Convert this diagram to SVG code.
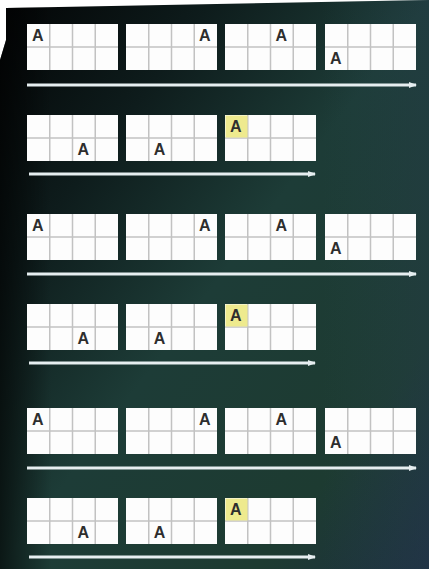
<svg xmlns="http://www.w3.org/2000/svg" width="429" height="569" viewBox="0 0 429 569">
<defs>
<linearGradient id="bg" x1="0" y1="0" x2="1" y2="1">
<stop offset="0" stop-color="#030405"/>
<stop offset="0.25" stop-color="#0e1c1c"/>
<stop offset="0.5" stop-color="#1d3c37"/>
<stop offset="0.8" stop-color="#1d3b31"/>
<stop offset="1" stop-color="#1e3040"/>
</linearGradient>
<linearGradient id="sheen" x1="0" y1="0" x2="1" y2="0">
<stop offset="0" stop-color="#000" stop-opacity="0.6"/>
<stop offset="0.12" stop-color="#000" stop-opacity="0"/>
<stop offset="0.75" stop-color="#2a4a5a" stop-opacity="0"/>
<stop offset="1" stop-color="#2a3e55" stop-opacity="0.3"/>
</linearGradient>
<g id="grid">
<rect x="0" y="0" width="91" height="46" fill="#fdfdfd"/>
<path d="M22.75 0V46M45.5 0V46M68.25 0V46M0 23H91" stroke="#c2c2c2" stroke-width="1.5" fill="none"/>
</g>
<marker id="ah" markerWidth="8" markerHeight="6" refX="7" refY="3" orient="auto" markerUnits="userSpaceOnUse">
<path d="M0 0L8 3L0 6Z" fill="#e6eef0"/>
</marker>
<style>
.a{font-family:"Liberation Sans",Arial,sans-serif;font-weight:bold;font-size:16px;fill:#2e2e2e}
.arr{stroke:#e6eef0;stroke-width:3;fill:none;marker-end:url(#ah)}
.hl{fill:#eeea8e}
</style>
</defs>
<rect width="429" height="569" fill="#fff"/>
<polygon points="6,8 429,0 429,569 0,569 0,60 6,40" fill="url(#bg)"/>
<polygon points="6,8 429,0 429,569 0,569 0,60 6,40" fill="url(#sheen)"/>

<g id="r1g1"><use href="#grid" x="27" y="24"/><text class="a" x="32" y="41">A</text></g>
<g id="r1g2"><use href="#grid" x="126" y="24"/><text class="a" x="199" y="41">A</text></g>
<g id="r1g3"><use href="#grid" x="225" y="24"/><text class="a" x="275.5" y="41">A</text></g>
<g id="r1g4"><use href="#grid" x="325" y="24"/><text class="a" x="330" y="64">A</text></g>

<g id="r2g1"><use href="#grid" x="27" y="115"/><text class="a" x="77.5" y="155">A</text></g>
<g id="r2g2"><use href="#grid" x="126" y="115"/><text class="a" x="153.75" y="155">A</text></g>
<g id="r2g3"><use href="#grid" x="225" y="115"/><rect class="hl" x="225.5" y="115.5" width="22" height="22"/><text class="a" x="230" y="132">A</text></g>

<g id="r3g1"><use href="#grid" x="27" y="214"/><text class="a" x="32" y="231">A</text></g>
<g id="r3g2"><use href="#grid" x="126" y="214"/><text class="a" x="199" y="231">A</text></g>
<g id="r3g3"><use href="#grid" x="225" y="214"/><text class="a" x="275.5" y="231">A</text></g>
<g id="r3g4"><use href="#grid" x="325" y="214"/><text class="a" x="330" y="254">A</text></g>

<g id="r4g1"><use href="#grid" x="27" y="304"/><text class="a" x="77.5" y="344">A</text></g>
<g id="r4g2"><use href="#grid" x="126" y="304"/><text class="a" x="153.75" y="344">A</text></g>
<g id="r4g3"><use href="#grid" x="225" y="304"/><rect class="hl" x="225.5" y="304.5" width="22" height="22"/><text class="a" x="230" y="321">A</text></g>

<g id="r5g1"><use href="#grid" x="27" y="408"/><text class="a" x="32" y="425">A</text></g>
<g id="r5g2"><use href="#grid" x="126" y="408"/><text class="a" x="199" y="425">A</text></g>
<g id="r5g3"><use href="#grid" x="225" y="408"/><text class="a" x="275.5" y="425">A</text></g>
<g id="r5g4"><use href="#grid" x="325" y="408"/><text class="a" x="330" y="448">A</text></g>

<g id="r6g1"><use href="#grid" x="27" y="498"/><text class="a" x="77.5" y="538">A</text></g>
<g id="r6g2"><use href="#grid" x="126" y="498"/><text class="a" x="153.75" y="538">A</text></g>
<g id="r6g3"><use href="#grid" x="225" y="498"/><rect class="hl" x="225.5" y="498.5" width="22" height="22"/><text class="a" x="230" y="515">A</text></g>

<g id="connectors">
<line class="arr" x1="27" y1="85" x2="416" y2="85"/>
<line class="arr" x1="29" y1="174" x2="315" y2="174"/>
<line class="arr" x1="27" y1="274" x2="416" y2="274"/>
<line class="arr" x1="29" y1="363" x2="315" y2="363"/>
<line class="arr" x1="27" y1="468" x2="416" y2="468"/>
<line class="arr" x1="29" y1="557" x2="315" y2="557"/>
</g>
</svg>
